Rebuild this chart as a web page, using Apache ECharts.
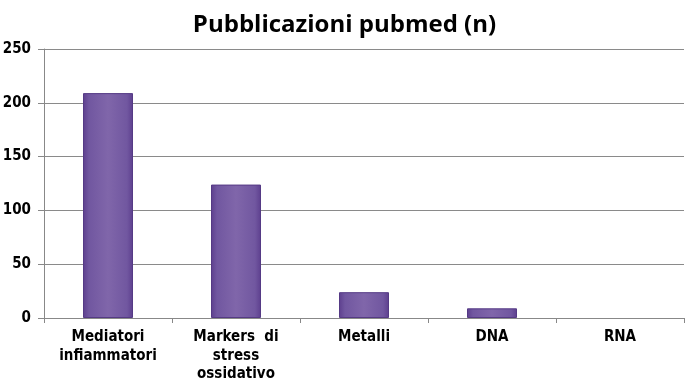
<!DOCTYPE html>
<html><head><meta charset="utf-8">
<script src="https://cdn.jsdelivr.net/npm/echarts@6/dist/echarts.min.js"></script>
<style>html,body{margin:0;padding:0;background:#fff}#c{width:689px;height:385px}</style>
</head><body><div id="c"></div>
<script>
const title = 'Pubblicazioni pubmed (n)';
const categories = ['Mediatori\ninfiammatori', 'Markers  di\nstress\nossidativo', 'Metalli', 'DNA', 'RNA'];
const values = [209, 124, 24, 9, 0];
const yTicks = {min: 0, max: 250, interval: 50};

const labelFont = '"DejaVu Sans Condensed", "Liberation Sans Narrow", Roboto, sans-serif';
const chart = echarts.init(document.getElementById('c'), null, {renderer: 'canvas'});
chart.setOption({
  animation: false,
  backgroundColor: '#fff',
  title: {
    text: title, left: 'center', top: 8,
    textStyle: {fontFamily: 'Open Sans', fontWeight: 'bold', fontSize: 24, color: '#000'}
  },
  grid: {left: 44, right: 5, top: 49, bottom: 67, containLabel: false, outerBoundsMode: 'none'},
  xAxis: {
    type: 'category', data: categories,
    axisLine: {lineStyle: {color: '#888', width: 1}},
    axisTick: {show: true, alignWithLabel: false, length: 5, lineStyle: {color: '#888'}},
    axisLabel: {
      interval: 0, margin: 10, color: '#000', fontFamily: labelFont,
      fontWeight: 'bold', fontSize: 15, lineHeight: 18.5
    }
  },
  yAxis: {
    type: 'value', min: yTicks.min, max: yTicks.max, interval: yTicks.interval,
    axisLine: {show: true, lineStyle: {color: '#888', width: 1}},
    axisTick: {show: true, length: 6, lineStyle: {color: '#888'}},
    splitLine: {show: true, lineStyle: {color: '#8a8a8a', width: 1}},
    axisLabel: {margin: 13, color: '#000', fontFamily: labelFont, fontWeight: 'bold', fontSize: 15}
  },
  series: [{
    type: 'bar', barWidth: 50,
    data: values.map(v => v === 0 ? {value: v, itemStyle: {borderWidth: 0}} : v),
    itemStyle: {
      color: new echarts.graphic.LinearGradient(0, 0, 1, 0, [
        {offset: 0, color: '#5d3f8e'},
        {offset: 0.12, color: '#7157a0'},
        {offset: 0.5, color: '#8066aa'},
        {offset: 0.88, color: '#7157a0'},
        {offset: 1, color: '#5d3f8e'}
      ]),
      borderColor: '#553a85', borderWidth: 1
    }
  }]
});
</script>
</body></html>
